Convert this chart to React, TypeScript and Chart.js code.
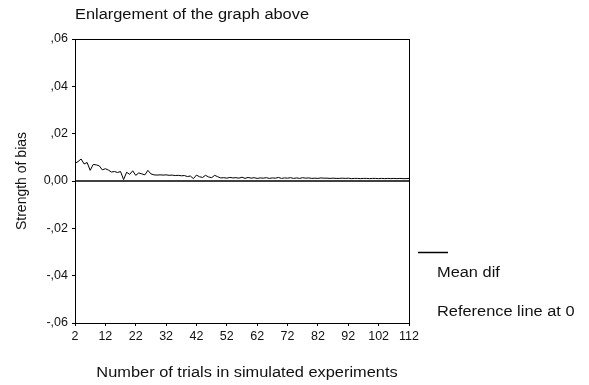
import React, { useEffect, useRef } from "react";
import { Chart, registerables } from "chart.js";

Chart.register(...registerables);

// ---- data ----
const trials = [
  2, 3, 4, 5, 6, 7, 8, 9, 10, 11, 12, 13, 14, 15, 16, 17, 18, 19, 20, 21,
  22, 23, 24, 25, 26, 27, 28, 29, 30, 31, 32, 33, 34, 35, 36, 37, 38, 39, 40, 41,
  42, 43, 44, 45, 46, 47, 48, 49, 50, 51, 52, 53, 54, 55, 56, 57, 58, 59, 60, 61,
  62, 63, 64, 65, 66, 67, 68, 69, 70, 71, 72, 73, 74, 75, 76, 77, 78, 79, 80, 81,
  82, 83, 84, 85, 86, 87, 88, 89, 90, 91, 92, 93, 94, 95, 96, 97, 98, 99, 100, 101,
  102, 103, 104, 105, 106, 107, 108, 109, 110, 111, 112,
];

const meanDif = [
  0.0075, 0.0082, 0.0093, 0.0072, 0.0078, 0.0045, 0.007, 0.0068, 0.0064, 0.0047,
  0.0052, 0.0046, 0.0038, 0.004, 0.0036, 0.004, 0.0006, 0.0037, 0.0028, 0.0043,
  0.0024, 0.0034, 0.003, 0.0026, 0.0045, 0.003, 0.0026, 0.0025, 0.0026, 0.0025,
  0.0026, 0.0024, 0.0025, 0.0023, 0.0024, 0.0022, 0.0023, 0.0019, 0.0021, 0.001,
  0.0025, 0.0018, 0.0015, 0.0024, 0.0017, 0.0014, 0.0024, 0.0018, 0.0013, 0.0014,
  0.0012, 0.0015, 0.0013, 0.0014, 0.0012, 0.0016, 0.0011, 0.0015, 0.0012, 0.0014,
  0.0011, 0.0013, 0.0012, 0.0014, 0.0011, 0.0013, 0.0012, 0.0015, 0.0011, 0.0013,
  0.0012, 0.0014, 0.0011, 0.0013, 0.0011, 0.0014, 0.0012, 0.0013, 0.0011, 0.0012,
  0.0011, 0.0013, 0.0012, 0.0012, 0.0011, 0.0012, 0.0011, 0.0011, 0.0012, 0.0011,
  0.0012, 0.001, 0.0011, 0.0011, 0.001, 0.0011, 0.0011, 0.001, 0.0011, 0.0011,
  0.001, 0.0011, 0.001, 0.0011, 0.001, 0.0011, 0.001, 0.0011, 0.001, 0.001,
  0.0011,
];

const refX = [2, 112];
const refY = [0, 0];

const xTickValues = [2, 12, 22, 32, 42, 52, 62, 72, 82, 92, 102, 112];
const yTickValues = [-0.06, -0.04, -0.02, 0, 0.02, 0.04, 0.06];
const yTickLabels = ["-,06", "-,04", "-,02", "0,00", ",02", ",04", ",06"];

const titleText = "Enlargement of the graph above";
const xTitle = "Number of trials in simulated experiments";
const yTitle = "Strength of bias";
const legendLabels = ["Mean dif", "Reference line at 0"];

const FONT = "'Liberation Sans', Arial, Helvetica, sans-serif";
const STRETCH = 1.17;

function stretchedText(ctx: any, text: string, x: number, y: number, align: string) {
  ctx.save();
  ctx.translate(x, y);
  ctx.scale(STRETCH, 1);
  ctx.textAlign = align;
  ctx.fillText(text, 0, 0);
  ctx.restore();
}

const decorPlugin = {
  id: "decor",
  afterDraw(chart: any) {
    const { ctx, chartArea } = chart;
    ctx.save();
    // frame
    ctx.strokeStyle = "#000";
    ctx.lineWidth = 1;
    ctx.strokeRect(
      Math.round(chartArea.left) + 0.5,
      Math.round(chartArea.top) + 0.5,
      Math.round(chartArea.right - chartArea.left),
      Math.round(chartArea.bottom - chartArea.top)
    );
    ctx.fillStyle = "#111";
    ctx.font = `14px ${FONT}`;
    ctx.textBaseline = "middle";
    // title
    stretchedText(ctx, titleText, 75, 15, "left");
    // x-axis title
    stretchedText(ctx, xTitle, 247, 373, "center");
    // legend
    ctx.beginPath();
    ctx.lineWidth = 1.5;
    ctx.moveTo(418, 252.5);
    ctx.lineTo(448, 252.5);
    ctx.stroke();
    stretchedText(ctx, legendLabels[0], 437, 273, "left");
    stretchedText(ctx, legendLabels[1], 437, 312, "left");
    ctx.restore();
  },
};

export default function App() {
  const ref = useRef<HTMLCanvasElement>(null);

  useEffect(() => {
    if (!ref.current) return;
    const chart = new Chart(ref.current, {
      type: "line",
      data: {
        datasets: [
          {
            label: legendLabels[0],
            data: trials.map((t, i) => ({ x: t, y: meanDif[i] })),
            borderColor: "#000",
            borderWidth: 1,
            pointRadius: 0,
            tension: 0,
          },
          {
            label: legendLabels[1],
            data: refX.map((t, i) => ({ x: t, y: refY[i] })),
            borderColor: "#000",
            borderWidth: 1.6,
            pointRadius: 0,
          },
        ],
      },
      plugins: [decorPlugin],
      options: {
        animation: false,
        responsive: true,
        maintainAspectRatio: false,
        layout: { padding: { top: 39, right: 180, left: 0, bottom: 0 } },
        plugins: {
          legend: { display: false },
          title: { display: false },
          tooltip: { enabled: false },
        },
        scales: {
          x: {
            type: "linear",
            min: 2,
            max: 112,
            afterBuildTicks: (scale: any) => {
              scale.ticks = xTickValues.map((v) => ({ value: v }));
            },
            afterFit: (scale: any) => {
              scale.height = 62;
            },
            grid: {
              drawOnChartArea: false,
              drawTicks: true,
              tickLength: 3,
              color: "#000",
            },
            border: { display: true, color: "#000", width: 1 },
            ticks: {
              color: "#111",
              padding: 3,
              maxRotation: 0,
              autoSkip: false,
              font: { family: FONT, size: 12.5 },
              callback: (v: any) => String(v),
            },
            title: { display: false, text: xTitle },
          },
          y: {
            type: "linear",
            min: -0.06,
            max: 0.06,
            afterBuildTicks: (scale: any) => {
              scale.ticks = yTickValues.map((v) => ({ value: v }));
            },
            afterFit: (scale: any) => {
              scale.width = 75;
            },
            grid: {
              drawOnChartArea: false,
              drawTicks: true,
              tickLength: 3,
              color: "#000",
            },
            border: { display: true, color: "#000", width: 1 },
            ticks: {
              color: "#111",
              padding: 4,
              autoSkip: false,
              font: { family: FONT, size: 12.5 },
              callback: (v: any) => {
                const idx = yTickValues.findIndex((t) => Math.abs(t - Number(v)) < 1e-9);
                return idx >= 0 ? yTickLabels[idx] : "";
              },
            },
            title: {
              display: true,
              text: yTitle,
              color: "#111",
              font: { family: FONT, size: 14 },
              padding: { top: 14, bottom: 0 },
            },
          },
        },
      },
    });
    return () => chart.destroy();
  }, []);

  return (
    <div
      style={{
        position: "absolute",
        left: 0,
        top: 0,
        width: 589,
        height: 385,
        background: "#fff",
      }}
    >
      <canvas ref={ref} />
    </div>
  );
}
